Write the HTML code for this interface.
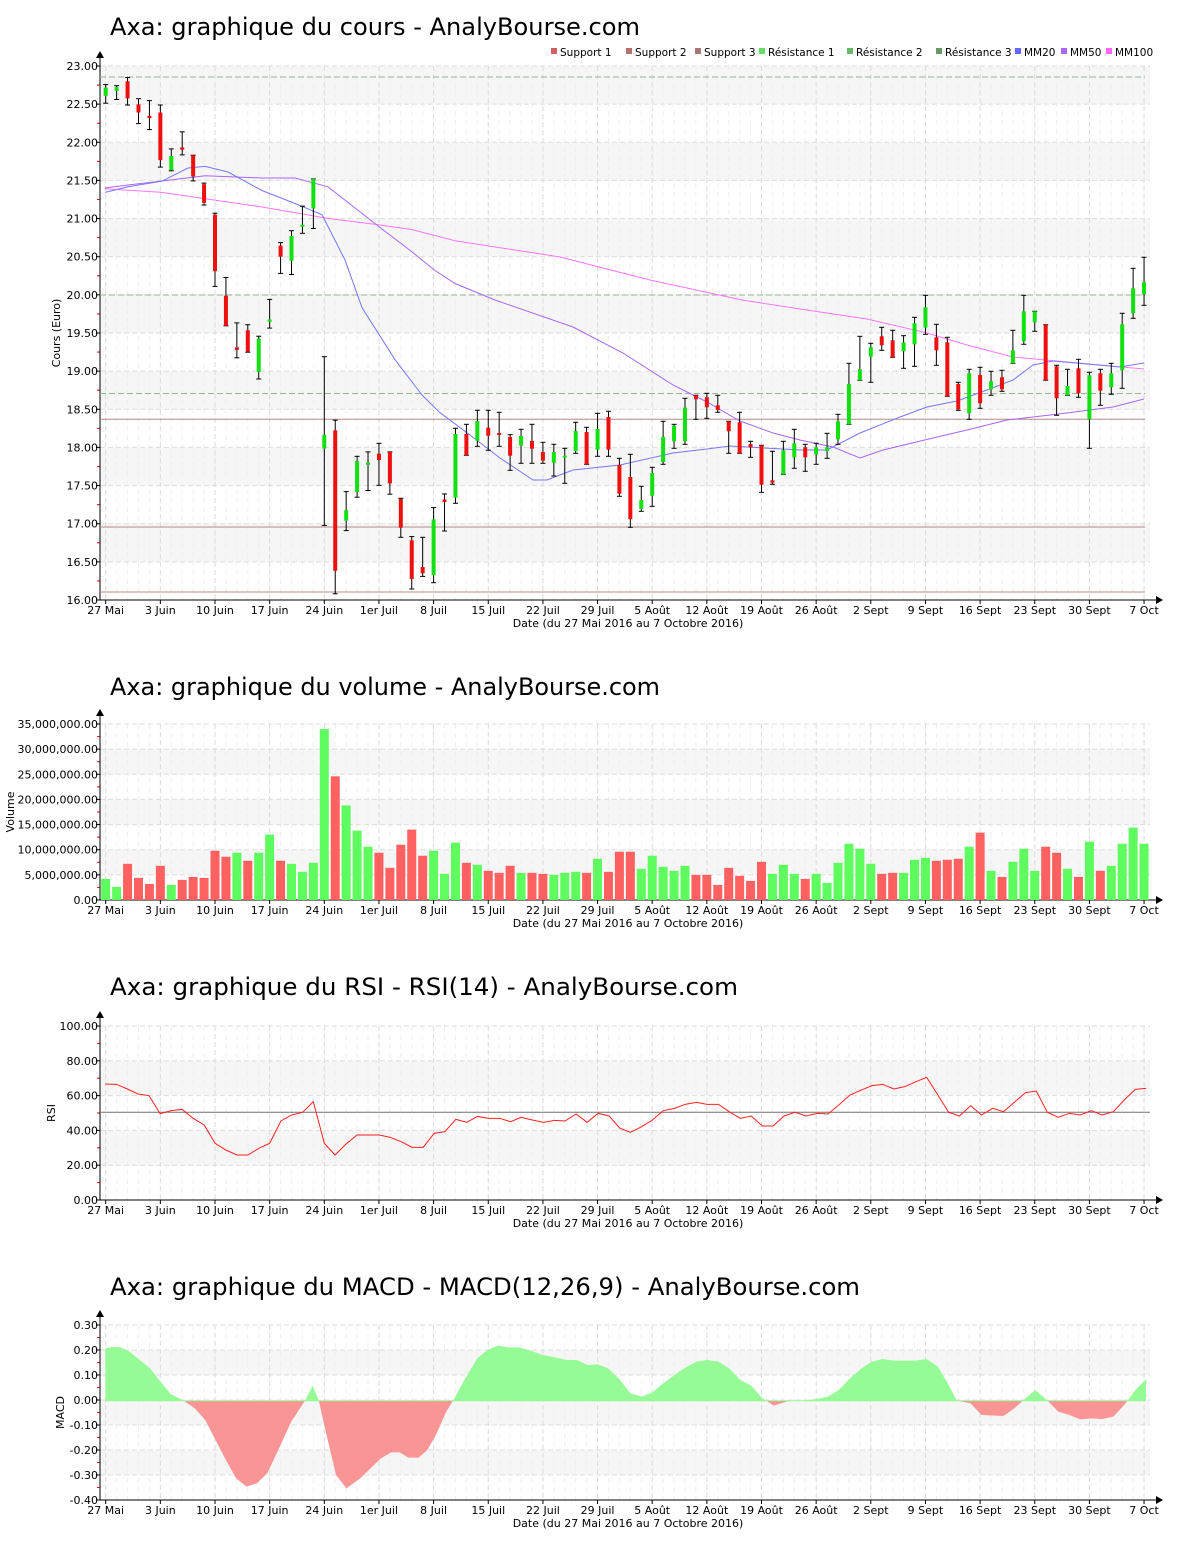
<!DOCTYPE html>
<html><head><meta charset="utf-8">
<style>
html,body{margin:0;padding:0;background:#fff;}
svg{display:block;font-family:"DejaVu Sans","Liberation Sans",sans-serif;}
</style></head>
<body>
<svg id="s" xmlns="http://www.w3.org/2000/svg" width="1200" height="1550" viewBox="0 0 1200 1550"></svg>
<script>
var o='';
var X=function(i){return 105.7+10.93*i;};
var L=100,R=1150;
var xl=['27 Mai','3 Juin','10 Juin','17 Juin','24 Juin','1er Juil','8 Juil','15 Juil','22 Juil','29 Juil','5 Août','12 Août','19 Août','26 Août','2 Sept','9 Sept','16 Sept','23 Sept','30 Sept','7 Oct'];
function frame(top,bot,labels,shadeOdd,title,titleY,titleLen,ylab,ylx,showDate){
  var n=labels.length, st=(bot-top)/(n-1);
  for(var k=0;k<n-1;k++){
    if((k%2==1)==shadeOdd) o+='<rect x="'+L+'" y="'+(top+k*st)+'" width="'+(R-L)+'" height="'+st+'" fill="#f6f6f6"/>';
  }
  for(var i=0;i<96;i++){ if(i%5) o+='<line x1="'+X(i)+'" y1="'+top+'" x2="'+X(i)+'" y2="'+bot+'" stroke="#efefef" stroke-dasharray="5,4"/>'; }
  for(var k=0;k<n-1;k++){ var y=top+k*st; o+='<line x1="'+L+'" y1="'+y+'" x2="'+R+'" y2="'+y+'" stroke="#dedede" stroke-dasharray="5,3"/>'; }
  for(var j=0;j<20;j++){ var x=X(j*5); o+='<line x1="'+x+'" y1="'+top+'" x2="'+x+'" y2="'+bot+'" stroke="#dadada" stroke-dasharray="5,3"/>'; }
  // labels y
  for(var k=0;k<n;k++){ var y=top+k*st;
    o+='<text x="98" y="'+(y+4)+'" font-size="11" text-anchor="end" fill="#000">'+labels[k]+'</text>';
    o+='<line x1="96" y1="'+y+'" x2="100" y2="'+y+'" stroke="#000"/>';
    if(k<n-1) o+='<line x1="97" y1="'+(y+st/2)+'" x2="100" y2="'+(y+st/2)+'" stroke="#e00"/>';
  }
  o+='<line x1="100" y1="'+(top-12)+'" x2="100" y2="'+bot+'" stroke="#000"/>';
  o+='<path d="M96,'+(top-8)+' L100,'+(top-15)+' L104,'+(top-8)+'Z" fill="#000"/>';
  o+='<line x1="100" y1="'+bot+'" x2="1158" y2="'+bot+'" stroke="#000"/>';
  o+='<path d="M1156,'+(bot-4)+' L1163,'+bot+' L1156,'+(bot+4)+'Z" fill="#000"/>';
  for(var j=0;j<20;j++){ var x=X(j*5);
    o+='<line x1="'+x+'" y1="'+bot+'" x2="'+x+'" y2="'+(bot+4)+'" stroke="#000"/>';
    o+='<text x="'+x+'" y="'+(bot+14)+'" font-size="11" text-anchor="middle">'+xl[j]+'</text>';
  }
  o+='<text x="628" y="'+(bot+27)+'" font-size="11" text-anchor="middle">Date (du 27 Mai 2016 au 7 Octobre 2016)</text>';
  o+='<text x="110" y="'+titleY+'" font-size="24" textLength="'+titleLen+'" lengthAdjust="spacingAndGlyphs">'+title+'</text>';
  o+='<text transform="translate('+ylx+','+((top+bot)/2)+') rotate(-90)" font-size="11" text-anchor="middle">'+ylab+'</text>';
}
// ===== Chart 1 =====
var l1=[];for(var k=0;k<15;k++)l1.push((23-k*0.5).toFixed(2));
frame(66,600,l1,false,'Axa: graphique du cours - AnalyBourse.com',35,530,'Cours (Euro)',60,true);
// horizontal S/R lines
[77,295,393.5].forEach(function(y){o+='<line x1="100" y1="'+y+'" x2="1145" y2="'+y+'" stroke="#99b399" stroke-dasharray="6,3"/>';});
[419.3,527,592].forEach(function(y){o+='<line x1="100" y1="'+y+'" x2="1145" y2="'+y+'" stroke="#b58888"/>';});
// MAs
function pl(pts,c){o+='<polyline fill="none" stroke="'+c+'" stroke-width="1" points="'+pts.map(function(p){return p[0]+','+p[1]}).join(' ')+'"/>';}
pl([[105,188.7],[162,192.4],[262,207],[328,218.4],[378,224.7],[412,229.6],[455,240.7],[560,257],[650,280],[742,300],[800,309],[867,319],[927,333],[967,345],[1013,357],[1067,362],[1144,369]],'#ff77ff');
pl([[105,188],[128,185],[162,181],[205,175.7],[262,178],[295,178],[328,186.8],[378,225.9],[412,251.9],[435,270.5],[455,283.5],[495,300],[573,327],[623,353],[673,385],[707,402],[740,421],[773,433],[800,440],[833,447],[860,458],[883,450],[933,438],[967,430],[1007,420],[1067,413],[1113,407],[1144,399]],'#aa66ff');
pl([[105,192.4],[128,186.8],[162,181.2],[188,168],[205,166.4],[228,172],[262,190.5],[295,203.5],[322,214.7],[345,260],[362,307.6],[395,359.7],[422,395],[440,412.7],[470,435],[500,458],[533,480],[547,480],[573,470],[620,465],[673,453],[707,449],[730,446],[800,450],[827,450],[860,433],[900,417],[927,407],[957,401],[987,390],[1013,380],[1033,365],[1053,361],[1087,364],[1120,367],[1144,363]],'#7777ff');
// candles: top,bottom,hi,lo,color
var C=[[87.6,95.8,84.6,103.2,'g'],[87.2,90.9,85.7,99.5,'g'],[81.3,98.4,77.5,105,'r'],[104.3,112.5,98.7,123.6,'r'],[115.8,118.1,100.6,129.6,'r'],[112.5,160.1,105,167.1,'r'],[156,170.1,148.9,170.8,'g'],[147.4,149.7,131.8,154.9,'r'],[155.2,176.4,155.2,180.9,'r'],[184.2,202.8,183.1,205,'r'],
[214.7,271.2,213.2,286.4,'r'],[295.7,325.8,277.5,325.8,'r'],[347.4,350,322.9,357.8,'r'],[330.3,351.5,324.7,352.2,'r'],[338.5,371.9,336.2,379,'g'],[319.5,321.8,299.4,328.1,'g'],[245.6,256.7,242.6,273.4,'r'],[235.9,260.8,230.7,274.5,'g'],[224.7,226.6,206.2,233.3,'g'],[179,208.4,179,228.5,'g'],
[434.8,448.5,356.7,525.4,'g'],[430.3,570.8,420.2,593.8,'r'],[510.2,520.6,491.6,530.6,'g'],[461.1,492,456.3,497.2,'g'],[462.6,464.8,451.9,490.5,'g'],[453.7,460,443.3,485.3,'r'],[451.9,483.4,451.9,494.2,'r'],[499,527.7,498.3,537.3,'r'],[540.3,579,536.6,589,'r'],[567,573.4,537.3,576.4,'r'],
[519.5,575.2,507.6,582.7,'g'],[499.5,502,494,531,'r'],[434,497.7,428.3,503.3,'g'],[434,455.3,424.3,455.3,'r'],[421,440.7,410.3,446.3,'g'],[427.7,435.7,410.3,450.3,'r'],[433,434.7,412.3,446.3,'r'],[437,455.7,434.7,470.3,'r'],[436,445.7,429.3,463.3,'g'],[441,448.7,424.3,463.3,'r'],
[452,460.7,442.3,463.3,'r'],[452,462.7,444.3,476,'g'],[455.7,457.3,448.3,483.3,'g'],[431,451,422.3,453.3,'g'],[432,464.3,427.3,464.3,'r'],[429,449.7,413.3,456.3,'g'],[417,449.7,411.3,456.3,'r'],[465,493.7,458.3,496.3,'r'],[477,519.3,454.3,527.3,'r'],[500,509,486.3,511.3,'g'],
[473,495.7,467.3,506.3,'g'],[437,462,421.3,464.3,'g'],[425.7,441.3,424.3,448.3,'g'],[407.7,441.3,398.3,444.3,'g'],[395.3,399.3,395.3,419.3,'r'],[397.3,407.3,393.3,418.3,'r'],[405.3,410,395.3,412.3,'r'],[421.3,431.3,421.3,453.3,'r'],[422.3,453.3,412.3,453.3,'r'],[444,447.3,441.3,457.3,'r'],
[445.3,484.7,445.3,492.3,'r'],[480.3,482.7,451.3,484.3,'r'],[450.3,474.3,441.3,474.3,'g'],[443.3,457.3,429.3,468.3,'g'],[447.3,457.3,444.3,471.3,'r'],[447.3,454.3,443.3,464.3,'g'],[447.3,451,433.3,458.3,'g'],[421.3,439.3,414.3,444.3,'g'],[384,424.3,363.3,424.3,'g'],[369.3,380.3,336.3,380.3,'g'],
[347.3,356.7,343.3,382.3,'g'],[336.3,345.3,327.3,350.3,'r'],[340.3,357.3,330.3,357.3,'r'],[342.3,351.3,335.7,368.3,'g'],[323.3,344.3,317.3,366.3,'g'],[307.3,327.7,295.3,334.3,'g'],[337.3,350.3,324.3,365.3,'r'],[342.3,396.3,337.3,396.3,'r'],[384,409.3,382.3,410.3,'r'],[373.3,413.3,369.3,419.3,'g'],
[375,403.3,367.3,408.3,'r'],[381.3,389.3,371.3,395.3,'g'],[377.3,389.3,370.3,391.3,'r'],[350.3,363.3,330.3,363.3,'g'],[311.3,341.3,295.3,344.3,'g'],[311.3,322.3,311.3,331.3,'g'],[324.7,380.3,324.7,380.3,'r'],[366.3,398.3,365.3,415.3,'r'],[386,395.3,369.3,395.3,'g'],[368.3,393.3,359.3,397.3,'r'],
[375.3,419.3,372.3,448.3,'g'],[373.3,390.7,369.3,405.3,'r'],[373.3,387.3,363.3,394.3,'g'],[324.3,370.3,313.3,388.3,'g'],[288.3,313.3,268.3,318.3,'g'],[282.3,294.3,257.3,305.3,'g']];
C.forEach(function(c,i){var x=X(i);
  o+='<line x1="'+x+'" y1="'+c[2]+'" x2="'+x+'" y2="'+c[3]+'" stroke="#000"/>';
  o+='<line x1="'+(x-2.5)+'" y1="'+c[2]+'" x2="'+(x+2.5)+'" y2="'+c[2]+'" stroke="#000"/>';
  o+='<line x1="'+(x-2.5)+'" y1="'+c[3]+'" x2="'+(x+2.5)+'" y2="'+c[3]+'" stroke="#000"/>';
  var h=Math.max(c[1]-c[0],2);
  o+='<rect x="'+(x-2)+'" y="'+c[0]+'" width="4" height="'+h+'" fill="'+(c[4]=='g'?'#11e011':'#ee0f0f')+'"/>';
});
// legend
var lg=[[551,'#d06060','Support 1'],[626,'#b87070','Support 2'],[695,'#a87878','Support 3'],[759,'#66dd66','Résistance 1'],[847,'#66bb66','Résistance 2'],[936,'#669966','Résistance 3'],[1015,'#6666ff','MM20'],[1061,'#aa66ff','MM50'],[1106,'#ff66ff','MM100']];
lg.forEach(function(g){o+='<rect x="'+g[0]+'" y="48" width="6" height="6" fill="'+g[1]+'"/><text x="'+(g[0]+9)+'" y="56" font-size="10.5">'+g[2]+'</text>';});
// ===== Volume =====
var l2=[];for(var k=7;k>=0;k--)l2.push(k==0?'0.00':(k*5)+',000,000.00');
frame(724,900,l2,true,'Axa: graphique du volume - AnalyBourse.com',695,550,'Volume',14,true);
var V=[[4.2,'g'],[2.6,'g'],[7.2,'r'],[4.4,'r'],[3.2,'r'],[6.8,'r'],[3,'g'],[4,'r'],[4.6,'r'],[4.4,'r'],[9.8,'r'],[8.6,'r'],[9.4,'g'],[7.8,'r'],[9.4,'g'],[13,'g'],[7.8,'r'],[7.2,'g'],[5.6,'g'],[7.4,'g'],[34,'g'],[24.6,'r'],[18.8,'g'],[13.8,'g'],[10.6,'g'],[9.4,'r'],[6.4,'r'],[11,'r'],[14,'r'],[8.8,'r'],[9.8,'g'],[5.2,'g'],[11.4,'g'],[7.4,'r'],[7,'g'],[5.8,'r'],[5.4,'r'],[6.8,'r'],[5.4,'g'],[5.4,'r'],[5.2,'r'],[5,'g'],[5.4,'g'],[5.6,'g'],[5.4,'r'],[8.2,'g'],[5.6,'r'],[9.6,'r'],[9.6,'r'],
[6.2,'g'],[8.8,'g'],[6.6,'g'],[5.8,'g'],[6.8,'g'],[5,'r'],[5,'r'],[3,'r'],[6.4,'r'],[4.8,'r'],[3.8,'r'],[7.6,'r'],[5.2,'g'],[7,'g'],[5.2,'g'],[4.2,'r'],[5.2,'g'],[3.4,'g'],[7.4,'g'],[11.2,'g'],[10.2,'g'],[7.2,'g'],[5.2,'r'],[5.4,'r'],[5.4,'g'],[8,'g'],[8.4,'g'],[7.8,'r'],[8,'r'],[8.2,'r'],[10.6,'g'],[13.4,'r'],[5.8,'g'],[4.6,'r'],[7.6,'g'],[10.2,'g'],[5.8,'g'],[10.6,'r'],[9.4,'r'],[6.2,'g'],[4.6,'r'],[11.6,'g'],[5.8,'r'],[6.8,'g'],[11.2,'g'],[14.4,'g'],[11.2,'g']];
V.forEach(function(v,i){var h=v[0]*176/35;o+='<rect x="'+(X(i)-4.5)+'" y="'+(900-h)+'" width="9" height="'+h+'" fill="'+(v[1]=='g'?'#5efc5e':'#ff6161')+'"/>';});
// ===== RSI =====
frame(1026,1200,['100.00','80.00','60.00','40.00','20.00','0.00'],true,'Axa: graphique du RSI - RSI(14) - AnalyBourse.com',995,628,'RSI',55,true);
o+='<line x1="100" y1="1112.3" x2="1150" y2="1112.3" stroke="#707070"/>';
function conv(a,x0,sx,y0){return a.map(function(p){return [x0+p[0]/sx,y0+p[1]/3];});}
var r1=conv([[30,207],[62,208],[94,222],[125,237],[157,242],[189,296],[221,287],[253,283],[285,310],[317,330],[349,385],[380,405],[412,420],[444,420],[476,400],[507,385],[540,318],[571,300],[603,292],[634,260],[666,385],[697,420],[729,387],[761,360],[793,360],[825,360],[857,367],[889,380],[921,397],[953,397],[985,355],[1016,350],[1048,313],[1080,322],[1111,304],[1143,310],[1175,310],[1207,320],[1238,307],[1270,315],[1302,322],[1334,316],[1365,318],[1397,297],[1429,322],[1461,295],[1493,303],[1525,335],[1556,352]],95,2.904,1015).filter(function(p){return p[0]<619;});
var r2=conv([[0,340],[30,352],[62,335],[93,315],[124,287],[156,280],[187,268],[219,262],[250,268],[282,268],[313,290],[345,310],[376,303],[408,333],[439,333],[470,303],[502,292],[533,303],[565,295],[596,297],[627,270],[659,240],[690,226],[722,212],[753,208],[785,222],[816,215],[848,200],[879,187],[911,240],[942,292],[973,303],[1005,272],[1036,300],[1068,280],[1099,290],[1130,262],[1162,233],[1193,228],[1225,292],[1256,307],[1288,295],[1319,300],[1351,287],[1382,300],[1414,290],[1445,255],[1477,223],[1508,220]],620,2.866,1015);
pl(r1.concat(r2),'#ff2020');
// ===== MACD =====
frame(1325,1500,['0.30','0.20','0.10','0.00','-0.10','-0.20','-0.30','-0.40'],true,'Axa: graphique du MACD - MACD(12,26,9) - AnalyBourse.com',1295,750,'MACD',64,true);
var m1=conv([[30,100],[50,96],[75,97],[100,110],[130,135],[160,160],[190,200],[220,237],[257,257],[290,280],[320,315],[350,375],[380,435],[410,490],[440,515],[470,505],[500,475],[530,410],[570,320],[610,257],[632,212],[650,257],[670,350],[700,480],[730,520],[770,490],[800,460],[830,430],[860,412],[885,412],[910,428],[940,428],[965,405],[990,360],[1020,290],[1040,257],[1070,200],[1110,130],[1140,105],[1170,92],[1200,97],[1230,97],[1260,105],[1300,120],[1340,128],[1370,135],[1400,135],[1430,150],[1460,148],[1490,160],[1520,190],[1545,230],[1568,238]],95,2.904,1315).filter(function(p){return p[0]<619;});
var m2=conv([[0,195],[30,235],[62,245],[93,232],[124,205],[156,180],[187,158],[219,140],[250,135],[282,140],[313,160],[345,195],[376,212],[408,250],[420,257],[440,272],[487,257],[520,257],[565,252],[596,245],[627,225],[659,190],[690,162],[722,140],[753,132],[785,137],[848,137],[879,132],[911,155],[942,210],[965,257],[1005,265],[1036,300],[1099,303],[1130,280],[1155,257],[1190,225],[1225,257],[1256,290],[1288,300],[1319,313],[1351,310],[1382,312],[1414,305],[1445,270],[1455,257],[1477,225],[1508,192]],620,2.866,1315);
var m=m1.concat(m2), y0=1400.7;
var d='M'+m[0][0]+','+y0+' '+m.map(function(p){return 'L'+p[0]+','+p[1]}).join(' ')+' L'+m[m.length-1][0]+','+y0+'Z';
o+='<defs><clipPath id="ca"><rect x="0" y="0" width="1200" height="'+y0+'"/></clipPath><clipPath id="cb"><rect x="0" y="'+y0+'" width="1200" height="200"/></clipPath></defs>';
o+='<path d="'+d+'" fill="#96fb96" clip-path="url(#ca)"/>';
o+='<path d="'+d+'" fill="#fa9595" clip-path="url(#cb)"/>';
o+='<line x1="105" y1="'+y0+'" x2="1145" y2="'+y0+'" stroke="#96fb96"/>';
document.getElementById('s').innerHTML=o;
</script>
</body></html>
